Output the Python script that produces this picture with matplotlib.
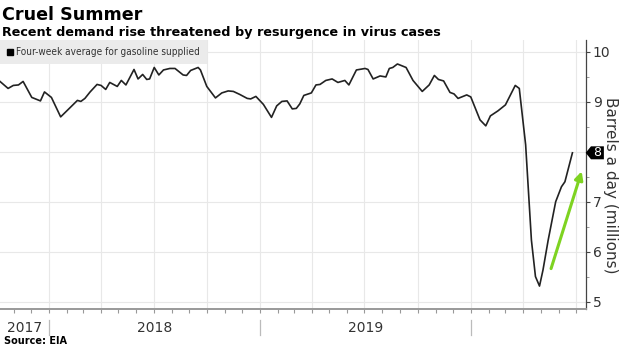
import numpy as np
import pandas as pd
import matplotlib.pyplot as plt
import matplotlib.dates as mdates
import matplotlib.transforms as mtrans
from matplotlib.lines import Line2D
from matplotlib.patches import Polygon

# four-week average of gasoline supplied, million barrels a day
dates = ["2017-10-08", "2017-10-22", "2017-10-31", "2017-11-09", "2017-11-17",
         "2017-12-02", "2017-12-17", "2017-12-24", "2018-01-05", "2018-01-21",
         "2018-02-05", "2018-02-19", "2018-02-25", "2018-03-04", "2018-03-13",
         "2018-03-25", "2018-04-01", "2018-04-09", "2018-04-16", "2018-04-29",
         "2018-05-06", "2018-05-14", "2018-05-28", "2018-06-04", "2018-06-12",
         "2018-06-19", "2018-06-24", "2018-07-02", "2018-07-10", "2018-07-18",
         "2018-07-29", "2018-08-07", "2018-08-21", "2018-08-27", "2018-09-03",
         "2018-09-16", "2018-09-20", "2018-10-01", "2018-10-16", "2018-10-27",
         "2018-11-07", "2018-11-16", "2018-11-27", "2018-12-10", "2018-12-16",
         "2018-12-25", "2019-01-07", "2019-01-21", "2019-01-30", "2019-02-08",
         "2019-02-17", "2019-02-26", "2019-03-05", "2019-03-11", "2019-03-18",
         "2019-03-31", "2019-04-08", "2019-04-15", "2019-04-25", "2019-05-06",
         "2019-05-16", "2019-05-28", "2019-06-04", "2019-06-17", "2019-07-02",
         "2019-07-07", "2019-07-16", "2019-07-28", "2019-08-07", "2019-08-13",
         "2019-08-19", "2019-08-27", "2019-09-11", "2019-09-23", "2019-10-09",
         "2019-10-21", "2019-10-30", "2019-11-06", "2019-11-15", "2019-11-26",
         "2019-12-03", "2019-12-10", "2019-12-25", "2020-01-01", "2020-01-17",
         "2020-01-27", "2020-02-04", "2020-02-17", "2020-03-01", "2020-03-18",
         "2020-03-25", "2020-04-05", "2020-04-15", "2020-04-22", "2020-04-29",
         "2020-05-05", "2020-05-14", "2020-05-27", "2020-06-06", "2020-06-12",
         "2020-06-25"]
supplied = [9.41, 9.27, 9.33, 9.34, 9.41,
            9.09, 9.02, 9.20, 9.09, 8.70,
            8.87, 9.03, 9.01, 9.07, 9.20,
            9.35, 9.33, 9.25, 9.39, 9.31,
            9.43, 9.34, 9.65, 9.46, 9.55,
            9.45, 9.46, 9.69, 9.54, 9.64,
            9.67, 9.67, 9.54, 9.53, 9.63,
            9.69, 9.64, 9.31, 9.08, 9.18,
            9.22, 9.21, 9.15, 9.07, 9.06,
            9.11, 8.95, 8.69, 8.92, 9.01,
            9.02, 8.86, 8.87, 8.96, 9.13,
            9.18, 9.34, 9.35, 9.43, 9.46,
            9.39, 9.43, 9.34, 9.64, 9.67,
            9.65, 9.46, 9.52, 9.50, 9.67,
            9.69, 9.76, 9.69, 9.43, 9.21,
            9.34, 9.53, 9.45, 9.42, 9.19,
            9.16, 9.07, 9.14, 9.10, 8.64,
            8.52, 8.72, 8.82, 8.94, 9.33,
            9.27, 8.14, 6.23, 5.50, 5.31,
            5.63, 6.23, 7.00, 7.30, 7.40,
            7.98]

years = [2017, 2018, 2019]
arrow_from = ("2020-05-19", 5.66)
arrow_to = ("2020-07-11", 7.61)

x = pd.to_datetime(dates)

fig = plt.figure(figsize=(6.2, 3.48), dpi=100)
ax = fig.add_axes([0.0, 0.112, 0.9447, 0.773])

ax.plot(x, supplied, color="#222222", lw=1.2, zorder=3)

ax.set_xlim(pd.Timestamp("2017-10-08"), pd.Timestamp("2020-07-18"))
ax.set_ylim(4.85, 10.24)

# right-hand value axis
ax.yaxis.tick_right()
ax.set_yticks([5, 6, 7, 8, 9, 10])
ax.set_yticks(np.arange(5.5, 10.1, 1.0), minor=True)
ax.tick_params(axis="y", which="major", length=3, color="#444444",
               labelsize=10, labelcolor="#333333", pad=2)
ax.tick_params(axis="y", which="minor", length=2, color="#888888")
ax.yaxis.set_label_position("right")
ax.set_ylabel("Barrels a day (millions)", rotation=-90, fontsize=11,
              color="#333333", va="center")
ax.yaxis.set_label_coords(1.042, 0.46)

# quarterly grid, monthly ticks
ax.xaxis.set_major_locator(mdates.MonthLocator(bymonth=[1, 4, 7, 10]))
ax.xaxis.set_minor_locator(mdates.MonthLocator())
ax.xaxis.set_major_formatter(plt.NullFormatter())
ax.tick_params(axis="x", which="both", length=3, color="#999999", width=0.8)
ax.grid(True, which="major", color="#e8e8e8", lw=0.8, zorder=0)

for side in ["top", "left"]:
    ax.spines[side].set_visible(False)
ax.spines["right"].set_color("#444444")
ax.spines["right"].set_linewidth(0.9)
ax.spines["bottom"].set_color("#999999")
ax.spines["bottom"].set_linewidth(1.4)

# year labels and separators under the axis
trans = mtrans.blended_transform_factory(ax.transData, ax.transAxes)
xmin, xmax = ax.get_xlim()
for yr in years:
    start = max(mdates.date2num(pd.Timestamp(f"{yr}-01-01")), xmin)
    end = mdates.date2num(pd.Timestamp(f"{yr + 1}-01-01"))
    ax.text((start + end) / 2, -0.07, str(yr), transform=trans, ha="center",
            va="center", fontsize=10, color="#333333")
    ax.plot([end, end], [-0.04, -0.097], transform=trans, color="#bbbbbb",
            lw=0.9, clip_on=False)

# tag with the latest reading, pointing at the axis
last = supplied[-1]
tag_trans = mtrans.blended_transform_factory(ax.transAxes, ax.transData)
tag = Polygon([(1.0, last), (1.009, last + 0.13), (1.031, last + 0.13),
               (1.031, last - 0.13), (1.009, last - 0.13)], closed=True,
              transform=tag_trans, fc="black", ec="none", clip_on=False, zorder=6)
ax.add_patch(tag)
ax.text(1.02, last, f"{last:.0f}", transform=tag_trans, ha="center", va="center",
        fontsize=9, color="white", zorder=7, clip_on=False)

ax.annotate("", xy=(pd.Timestamp(arrow_to[0]), arrow_to[1]),
            xytext=(pd.Timestamp(arrow_from[0]), arrow_from[1]),
            arrowprops=dict(arrowstyle="-|>", color="#7ed321", lw=2.2,
                            mutation_scale=12, shrinkA=0, shrinkB=0), zorder=5)

leg = ax.legend([Line2D([], [], ls="", marker="s", color="black", markersize=4.5)],
                ["Four-week average for gasoline supplied"],
                loc="upper left", bbox_to_anchor=(0.0, 1.0), borderaxespad=0,
                frameon=True, fancybox=False, handlelength=0.6, handletextpad=0.3,
                borderpad=0.7,
                prop={"family": "DejaVu Sans", "stretch": "condensed", "size": 7.2})
leg.get_frame().set_facecolor("#ebebeb")
leg.get_frame().set_edgecolor("none")
leg.get_frame().set_alpha(1)
for t in leg.get_texts():
    t.set_color("#333333")

fig.text(0.004, 0.958, "Cruel Summer", fontsize=12.6, fontweight="bold",
         ha="left", va="center", color="black")
fig.text(0.004, 0.907, "Recent demand rise threatened by resurgence in virus cases",
         fontsize=9.2, fontweight="bold", ha="left", va="center", color="black")
fig.text(0.006, 0.02, "Source: EIA", fontsize=7, fontweight="bold",
         ha="left", va="center", color="black")

fig.savefig("out.png", dpi=100)
